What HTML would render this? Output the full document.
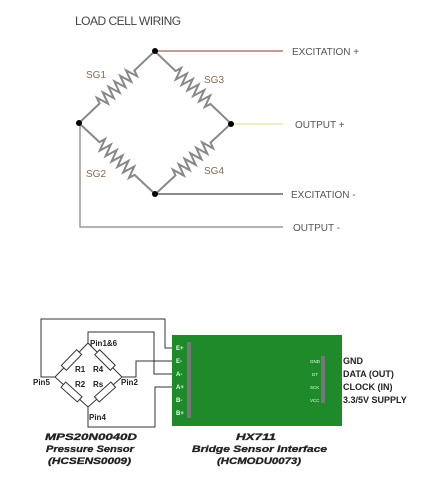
<!DOCTYPE html>
<html><head><meta charset="utf-8"><style>
html,body{margin:0;padding:0;background:#fff;}
svg{display:block;font-family:"Liberation Sans",sans-serif;}
</style></head><body>
<svg width="431" height="480" viewBox="0 0 431 480" xmlns="http://www.w3.org/2000/svg">
<text x="75" y="25" font-size="12" fill="#444" letter-spacing="-0.5">LOAD CELL WIRING</text>
<g stroke="#666" stroke-width="1.3" fill="none">
<line x1="155" y1="51" x2="283" y2="51" stroke="#a06050"/>
<line x1="231" y1="124" x2="283" y2="124" stroke="#e6e0a0"/>
<line x1="155" y1="194" x2="283" y2="194" stroke="#444"/>
<polyline points="80,123 80,227 283,227" stroke="#888"/>
</g>
<defs>
<path id="zz" d="M-52,0 L-24,0 l2,-6 l4,12 l4,-12 l4,12 l4,-12 l4,12 l4,-12 l4,12 l4,-12 l4,12 l4,-12 l4,12 l2,-6 L52,0" fill="none" stroke="#888" stroke-width="2"/>
</defs>
<use href="#zz" transform="translate(117,87) rotate(-43.5)"/>
<use href="#zz" transform="translate(193,87.5) rotate(43.5)"/>
<use href="#zz" transform="translate(117,158.5) rotate(43)"/>
<use href="#zz" transform="translate(193,159) rotate(-43)"/>
<g fill="#000"><circle cx="155" cy="51" r="3"/><circle cx="79" cy="123" r="3"/><circle cx="231" cy="124" r="3"/><circle cx="155" cy="194" r="3"/></g>
<g font-size="10" fill="#8a6a50"><text x="86" y="78">SG1</text><text x="204" y="83">SG3</text><text x="86" y="177">SG2</text><text x="204" y="174">SG4</text></g>
<g font-size="10" fill="#555"><text x="292" y="55">EXCITATION +</text><text x="295" y="128">OUTPUT +</text><text x="291" y="198">EXCITATION -</text><text x="293" y="231">OUTPUT -</text></g>

<rect x="172" y="335" width="170" height="91" fill="#1f8a2a"/>
<rect x="187" y="342" width="4" height="76" fill="#777"/>
<rect x="321" y="356" width="4" height="47" fill="#777"/>
<g font-size="6" fill="#dfe" font-weight="bold"><text x="176" y="350">E+</text><text x="176" y="363">E-</text><text x="176" y="376">A-</text><text x="176" y="389">A+</text><text x="176" y="402">B-</text><text x="176" y="415">B+</text></g>
<g font-size="4.5" fill="#dfe"><text x="310" y="363">GND</text><text x="312" y="376">DT</text><text x="310" y="389">SCK</text><text x="310" y="402">VCC</text></g>
<g font-size="9" font-weight="bold" fill="#222"><text x="343" y="364">GND</text><text x="343" y="377">DATA (OUT)</text><text x="343" y="390">CLOCK (IN)</text><text x="343" y="403">3.3/5V SUPPLY</text></g>
<g stroke="#333" stroke-width="1" fill="none">
<polyline points="55,377 41,377 41,319 165,319 165,348 172,348"/>
<polyline points="88,343 88,332 154,332 154,374 172,374"/>
<polyline points="122,377 136,377 136,361 172,361"/>
<polyline points="88,407 88,427 155,427 155,387 172,387"/>
<polygon points="55,377 88,343 122,377 88,407"/>
</g>
<g fill="#fff" stroke="#333" stroke-width="1">
<rect x="-11" y="-3.5" width="22" height="7" transform="translate(71.5,360) rotate(-46)"/>
<rect x="-11" y="-3.5" width="22" height="7" transform="translate(105,360) rotate(45)"/>
<rect x="-11" y="-3.5" width="22" height="7" transform="translate(71.5,392) rotate(42)"/>
<rect x="-11" y="-3.5" width="22" height="7" transform="translate(105,392) rotate(-42)"/>
</g>
<g font-size="8" font-weight="bold" fill="#222"><text x="90" y="346">Pin1&amp;6</text><text x="75" y="372">R1</text><text x="93" y="372">R4</text><text x="75" y="387">R2</text><text x="93" y="387">Rs</text><text x="33" y="385">Pin5</text><text x="121" y="385">Pin2</text><text x="89" y="420">Pin4</text></g>
<g font-size="9" font-weight="900" font-style="italic" fill="#222" stroke="#222" stroke-width="0.3" lengthAdjust="spacingAndGlyphs">
<text x="45" y="440" textLength="92" lengthAdjust="spacingAndGlyphs">MPS20N0040D</text>
<text x="46" y="452" textLength="88" lengthAdjust="spacingAndGlyphs">Pressure Sensor</text>
<text x="48" y="464" textLength="83" lengthAdjust="spacingAndGlyphs">(HCSENS0009)</text>
<text x="236" y="440" textLength="40" lengthAdjust="spacingAndGlyphs">HX711</text>
<text x="192" y="452" textLength="135" lengthAdjust="spacingAndGlyphs">Bridge Sensor Interface</text>
<text x="217" y="464" textLength="84" lengthAdjust="spacingAndGlyphs">(HCMODU0073)</text>
</g>
</svg>
</body></html>
